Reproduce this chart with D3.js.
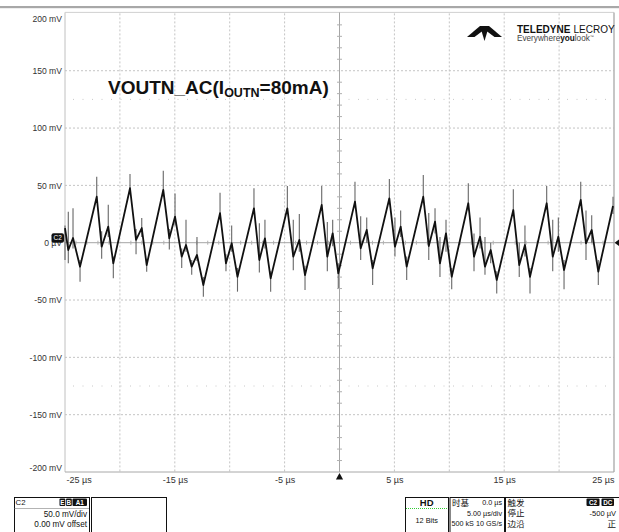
<!DOCTYPE html>
<html><head><meta charset="utf-8">
<script src="https://cdn.jsdelivr.net/npm/d3@7/dist/d3.min.js"></script>
<style>
body{margin:0;background:#fff}
svg{display:block;font-family:"Liberation Sans",Arial,sans-serif}
</style></head><body>
<svg id="c" width="619" height="532"></svg>
<script>
// ---------- data ----------
const xGridTicks = [-25,-20,-15,-10,-5,0,5,10,15,20,25];
const xLabelTicks = [-25,-15,-5,5,15,25];
const xTickLabels = ["-25 µs","-15 µs","-5 µs","5 µs","15 µs","25 µs"];
const yTicks = [-200,-150,-100,-50,0,50,100,150,200];
const yTickLabels = ["-200 mV","-150 mV","-100 mV","-50 mV","0 µV","50 mV","100 mV","150 mV","200 mV"];
const dottedLevels = [125,-125];

// waveform vertices (µs, mV)
const traceTimes = [-25.0,-24.70,-24.27,-23.63,-22.11,-21.66,-21.06,-20.60,-19.08,-18.53,-18.01,-17.56,-16.05,-15.50,-14.98,-14.37,-13.98,-13.46,-12.98,-12.40,-10.88,-10.34,-9.82,-9.29,-7.79,-7.30,-6.79,-6.27,-4.75,-4.21,-3.66,-3.14,-1.62,-1.11,-0.62,-0.11,1.41,1.93,2.48,3.02,4.54,5.05,5.57,6.12,7.63,8.13,8.70,9.15,9.70,10.22,11.73,12.25,12.80,13.25,13.77,14.32,15.83,16.37,16.89,17.35,18.87,19.42,19.93,20.45,21.97,22.45,22.97,23.57,24.91];
const traceValues = [12.8,-6.4,4.1,-20.9,40.1,-3.5,14.0,-18.0,47.5,2.4,12.8,-19.5,46.0,3.8,22.7,-12.2,-2.0,-20.9,-10.7,-36.9,25.7,-18.0,-0.5,-29.7,30.0,-15.1,3.8,-31.1,30.0,-12.2,2.4,-28.2,32.9,-12.2,8.2,-26.7,35.8,-4.9,11.1,-22.3,38.7,-3.5,14.0,-20.9,40.1,-2.9,18.3,-18.0,8.2,-29.7,34.4,-12.2,5.2,-20.9,-6.4,-32.5,28.5,-19.5,-2.0,-29.7,34.4,-12.2,5.2,-23.8,37.3,-0.5,11.1,-25.3,32.0];
// switching spikes (µs, high mV, low mV)
const spikeTimes = traceTimes;
const spikeHigh = [15,27,30,-15,57.6,10,33,-12,60,12,21.5,-14,62.8,12,43,-5,20,-15,5,-30,43.6,-10,15,-22,47.5,17,20,-25,49.5,20,25,-20,49.5,18,20,-18,53.2,23,22,-15,55.6,22,28,-12,59,26,30,5,20,-22,51.8,8,22,5,0,-25,46.6,0,15,-22,49.5,20,22,-15,53.2,28,24,-15,40];
const spikeLow = [-15,-18,-5,-34,35,-14,5,-31,42,-10,5,-25.3,40,-6,15,-22,-8,-28,-16,-47.1,20,-25,-8,-42.7,25,-26,-5,-42.7,25,-24,-8,-41.3,28,-25,-3,-39.5,30,-15,0,-36.9,33,-12,5,-32.5,35,-15,8,-30,-8,-40.7,28,-25,-5,-28,-18,-44.2,23,-30,-12,-44.2,29,-25,-8,-40.7,32,-15,0,-36.9,25];

// ---------- layout ----------
const svg = d3.select("#c");
const X0 = 65, X1 = 614, Y0 = 13.4, Y1 = 472;
const x = d3.scaleLinear().domain([-25,25]).range([X0,X1]);
const y = d3.scaleLinear().domain([-200,200]).range([Y1,Y0]);
const font = '"Liberation Sans",Arial,sans-serif';
const cjk = '"Noto Sans CJK SC","Liberation Sans",sans-serif';

svg.append("rect").attr("x",0).attr("y",0).attr("width",619).attr("height",532).attr("fill","#fff");
svg.append("rect").attr("x",0).attr("y",6).attr("width",619).attr("height",2.2).attr("fill","#a8a8a8");

// grid
const grid = svg.append("g");
grid.selectAll(".vg").data(xGridTicks.filter(d=>d!==0 && Math.abs(d)!==25)).enter().append("line")
  .attr("x1",d=>x(d)).attr("x2",d=>x(d)).attr("y1",Y0).attr("y2",Y1)
  .attr("stroke","#c4c4c4").attr("stroke-dasharray","2,2");
grid.selectAll(".hg").data(yTicks.filter(d=>d!==0 && Math.abs(d)!==200)).enter().append("line")
  .attr("y1",d=>y(d)).attr("y2",d=>y(d)).attr("x1",X0).attr("x2",X1)
  .attr("stroke","#c4c4c4").attr("stroke-dasharray","2,2");
grid.selectAll(".dl").data(dottedLevels).enter().append("line")
  .attr("y1",d=>y(d)).attr("y2",d=>y(d)).attr("x1",X0+8).attr("x2",X1)
  .attr("stroke","#c8c8c8").attr("stroke-dasharray","1,8.5");
// border
svg.append("line").attr("x1",X0).attr("x2",X0).attr("y1",Y0-1).attr("y2",Y1).attr("stroke","#c0c0c0");
svg.append("line").attr("x1",X0).attr("x2",X1).attr("y1",Y0-1).attr("y2",Y0-1).attr("stroke","#d0d0d0");
svg.append("line").attr("x1",X1).attr("x2",X1).attr("y1",Y0-1).attr("y2",Y1).attr("stroke","#b8b8b8").attr("stroke-width",1.6);
svg.append("line").attr("x1",X0).attr("x2",X1).attr("y1",Y1).attr("y2",Y1).attr("stroke","#a8a8a8");

// center crosshair with minor ticks
svg.append("line").attr("x1",x(0)).attr("x2",x(0)).attr("y1",Y0-1).attr("y2",Y1).attr("stroke","#a6a6a6");
svg.append("line").attr("x1",X0).attr("x2",X1).attr("y1",y(0)).attr("y2",y(0)).attr("stroke","#a6a6a6");
const minorY = d3.range(-200,201,10).filter(d=>d%50!==0);
svg.selectAll(".my").data(minorY).enter().append("line")
  .attr("x1",x(0)-2.5).attr("x2",x(0)+2.5).attr("y1",d=>y(d)).attr("y2",d=>y(d)).attr("stroke","#b0b0b0");
const minorX = d3.range(-25,25.01,1).filter(d=>d%5!==0);
svg.selectAll(".mx").data(minorX).enter().append("line")
  .attr("y1",y(0)-2).attr("y2",y(0)+2).attr("x1",d=>x(d)).attr("x2",d=>x(d)).attr("stroke","#b0b0b0");

// axes labels
const gy = svg.append("g").attr("transform",`translate(${X0},0)`)
  .call(d3.axisLeft(y).tickValues(yTicks).tickFormat((d,i)=>yTickLabels[i]).tickSize(0).tickPadding(3));
gy.select(".domain").remove();
gy.attr("font-family",font).attr("font-size",8.6);
gy.selectAll("text").attr("fill","#333");
gy.selectAll(".tick").filter(d=>d===200).select("text").attr("y",5.6);
gy.selectAll(".tick").filter(d=>d===-200).select("text").attr("y",-4);

const gx = svg.append("g").attr("transform",`translate(0,${Y1})`)
  .call(d3.axisBottom(x).tickValues(xLabelTicks).tickFormat((d,i)=>xTickLabels[i]).tickSize(0).tickPadding(4.5));
gx.select(".domain").remove();
gx.attr("font-family",font).attr("font-size",9);
gx.selectAll("text").attr("fill","#333");
gx.selectAll(".tick").filter(d=>d===-25).select("text").attr("text-anchor","start").attr("x",1);
gx.selectAll(".tick").filter(d=>d===25).select("text").attr("text-anchor","end").attr("x",0);

// waveform
const pts = traceTimes.map((t,i)=>[t,traceValues[i]]);
svg.append("g").selectAll("line").data(spikeTimes).enter().append("line")
  .attr("x1",d=>x(d)).attr("x2",d=>x(d))
  .attr("y1",(d,i)=>y(spikeHigh[i])).attr("y2",(d,i)=>y(spikeLow[i]))
  .attr("stroke","#666").attr("stroke-width",1.1);
svg.append("path").datum(pts)
  .attr("d",d3.line().x(d=>x(d[0])).y(d=>y(d[1])))
  .attr("fill","none").attr("stroke","#111").attr("stroke-width",1.8).attr("stroke-linejoin","round");

// C2 badge at zero
svg.append("rect").attr("x",51.5).attr("y",y(0)-9.5).attr("width",12.5).attr("height",9.5).attr("rx",2).attr("fill","#111");
svg.append("text").attr("x",57.7).attr("y",y(0)-2.5).attr("text-anchor","middle").attr("font-size",6.5)
  .attr("font-family",font).attr("fill","#fff").text("C2");
// markers
svg.append("path").attr("d",`M${x(0)},${Y1+1}L${x(0)-3.6},${Y1+7.5}L${x(0)+3.6},${Y1+7.5}Z`).attr("fill","#111");
svg.append("path").attr("d",`M${X1+0.5},${y(0)}L619.5,${y(0)-3.6}L619.5,${y(0)+3.6}Z`).attr("fill","#111");

// title
const title = svg.append("text").attr("x",108).attr("y",93.5).attr("font-family",font).attr("font-weight","bold").attr("font-size",19).attr("fill","#111");
title.append("tspan").text("VOUTN_AC(I");
title.append("tspan").attr("font-size",12.5).attr("dy",3).text("OUTN");
title.append("tspan").attr("dy",-3).text("=80mA)");

// logo
const logo = svg.append("g").attr("fill","#111");
logo.append("path").attr("d","M467,37 L480,26 L484.5,26 L484.5,29.5 L474.5,37 Z");
logo.append("path").attr("d","M502,37 L489,26 L484.5,26 L484.5,29.5 L494.5,37 Z");
logo.append("path").attr("d","M480,26 L489,26 L484.5,41 Z");
svg.append("text").attr("x",517).attr("y",32.5).attr("font-family",font).attr("font-size",10).attr("font-weight","bold").attr("fill","#111").text("TELEDYNE");
svg.append("text").attr("x",573.5).attr("y",32.5).attr("font-family",font).attr("font-size",10).attr("fill","#111").text("LECROY");
const tag = svg.append("text").attr("x",517).attr("y",41).attr("font-family",font).attr("font-size",8.2).attr("fill","#444");
tag.append("tspan").text("Everywhere");
tag.append("tspan").attr("font-weight","bold").attr("fill","#111").text("you");
tag.append("tspan").text("look");
tag.append("tspan").attr("font-size",4).attr("dy",-3.5).text("™");

// ---------- bottom panels ----------
const pan = svg.append("g").attr("font-family",font);
function box(x0,x1){pan.append("rect").attr("x",x0+0.5).attr("y",497.5).attr("width",x1-x0).attr("height",40).attr("fill","none").attr("stroke","#111");}
function txt(xp,yp,s,anchor,size,opts){const t=pan.append("text").attr("x",xp).attr("y",yp).attr("text-anchor",anchor||"start").attr("font-size",size||7.5).attr("fill","#111").text(s);
  if(opts&&opts.bold)t.attr("font-weight","bold"); if(opts&&opts.cjk)t.attr("font-family",cjk); if(opts&&opts.fill)t.attr("fill",opts.fill); return t;}
function badge(x0,w,s){pan.append("rect").attr("x",x0).attr("y",498.5).attr("width",w).attr("height",7.5).attr("rx",1).attr("fill","#111");
  txt(x0+w/2,504.5,s,"middle",6.3,{bold:true,fill:"#fff"});}
box(14,89); box(91,166);
txt(15.5,505,"C2","start",7.8);
badge(59.5,5.8,"E"); badge(66,5.8,"B"); badge(72.5,14.5,"A1");
pan.append("line").attr("x1",14.5).attr("x2",89).attr("y1",508.5).attr("y2",508.5).attr("stroke","#666").attr("stroke-dasharray","1,1");
txt(87,516.5,"50.0 mV/div","end",8.2);
txt(87,526.5,"0.00 mV offset","end",8.2);

box(405,448); box(449.5,504); box(505,619);
txt(426.7,505.5,"HD","middle",9.5,{bold:true});
pan.append("line").attr("x1",406).attr("x2",448).attr("y1",508.5).attr("y2",508.5).attr("stroke","#3c3").attr("stroke-dasharray","1,1");
txt(426.7,523,"12 Bits","middle",7.3);
txt(452,505.5,"时基","start",8.5,{cjk:true});
txt(502,505,"0.0 µs","end",7.2);
txt(502,515.5,"5.00 µs/div","end",7.2);
txt(451.5,526,"500 kS","start",7.2);
txt(502,526,"10 GS/s","end",7.2);
txt(507.5,505.5,"触发","start",8.5,{cjk:true});
badge(586.5,13,"C2"); badge(601.5,12.5,"DC");
txt(507.5,516,"停止","start",8.5,{cjk:true});
txt(616,515.5,"-500 µV","end",7.5);
txt(507.5,527,"边沿","start",8.5,{cjk:true});
txt(616,527,"正","end",8.5,{cjk:true});
</script>
</body></html>
